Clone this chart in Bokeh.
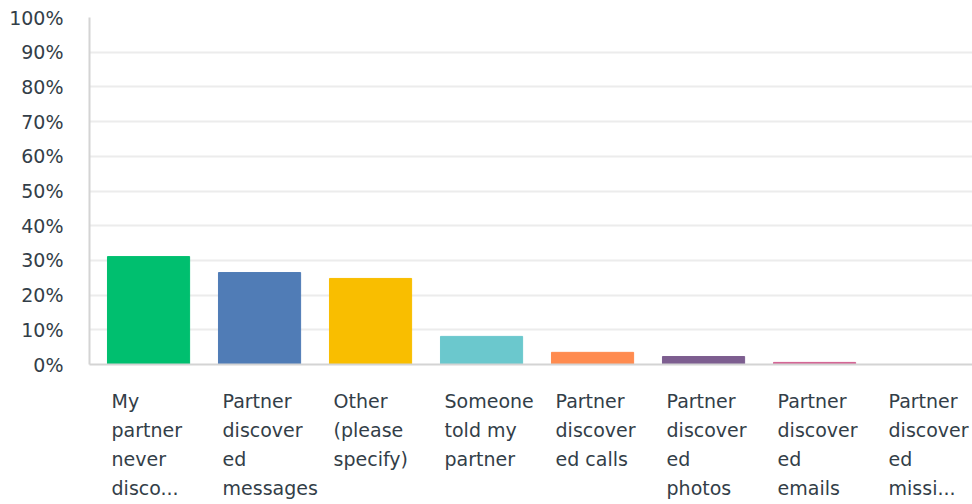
from bokeh.plotting import figure
from bokeh.layouts import column
from bokeh.models import FixedTicker, PrintfTickFormatter, Range1d
from bokeh.core.properties import value
from bokeh.embed import file_html
from bokeh.resources import INLINE

categories = [
    "My\npartner\nnever\ndisco...",
    "Partner\ndiscover\ned\nmessages",
    "Other\n(please\nspecify)",
    "Someone\ntold my\npartner",
    "Partner\ndiscover\ned calls",
    "Partner\ndiscover\ned\nphotos",
    "Partner\ndiscover\ned\nemails",
    "Partner\ndiscover\ned\nmissi...",
]
values = [31.1, 26.5, 24.8, 8.1, 3.5, 2.3, 0.6, 0.0]
colors = ["#00bf6f", "#507cb6", "#f9be00", "#6bc8cd", "#ff8b4f", "#7d5e90", "#d25f90", "#e05b3f"]
y_ticks = list(range(0, 101, 10))

FONT = "DejaVu Sans"
TXT = "#333e48"

idx = list(range(len(categories)))
xr = Range1d(-0.532, 7.423)

p = figure(width=972, height=376, output_backend="svg", toolbar_location=None,
           x_range=xr, y_range=Range1d(0, 100),
           min_border_top=17, min_border_left=89, min_border_right=0, min_border_bottom=12)
p.outline_line_color = None

p.vbar(x=idx, top=values, width=0.74, color=colors)

p.yaxis.ticker = FixedTicker(ticks=y_ticks)
p.yaxis.formatter = PrintfTickFormatter(format="%d%%")
p.yaxis.major_tick_line_color = None
p.yaxis.minor_tick_line_color = None
p.yaxis.axis_line_color = "#d4d4d4"
p.yaxis.axis_line_width = 2
p.yaxis.major_label_standoff = 20
p.yaxis.major_label_text_font = FONT
p.yaxis.major_label_text_font_size = "19px"
p.yaxis.major_label_text_color = TXT

p.xaxis.ticker = FixedTicker(ticks=[])
p.xaxis.major_tick_line_color = None
p.xaxis.minor_tick_line_color = None
p.xaxis.major_tick_out = 0
p.xaxis.minor_tick_out = 0
p.xaxis.major_label_standoff = 0
p.xaxis.axis_line_color = "#d4d4d4"
p.xaxis.axis_line_width = 2

p.xgrid.grid_line_color = None
p.ygrid.grid_line_color = "#ececec"
p.ygrid.grid_line_width = 2
p.ygrid.ticker = FixedTicker(ticks=y_ticks)

# category label strip sharing the x range
q = figure(width=972, height=128, output_backend="svg", toolbar_location=None,
           x_range=xr, y_range=Range1d(0, 1), x_axis_location=None, y_axis_location=None,
           min_border_top=0, min_border_left=89, min_border_right=0, min_border_bottom=0)
q.outline_line_color = None
q.xgrid.grid_line_color = None
q.ygrid.grid_line_color = None
q.text(x=idx, y=[1] * len(idx), text=categories, text_align="left", text_baseline="top",
       x_offset=-37, y_offset=13, text_font=value(FONT), text_font_size="19px",
       text_color=TXT, text_line_height=1.32)

open("out.html", "w").write(file_html(column(p, q, spacing=0), INLINE))
